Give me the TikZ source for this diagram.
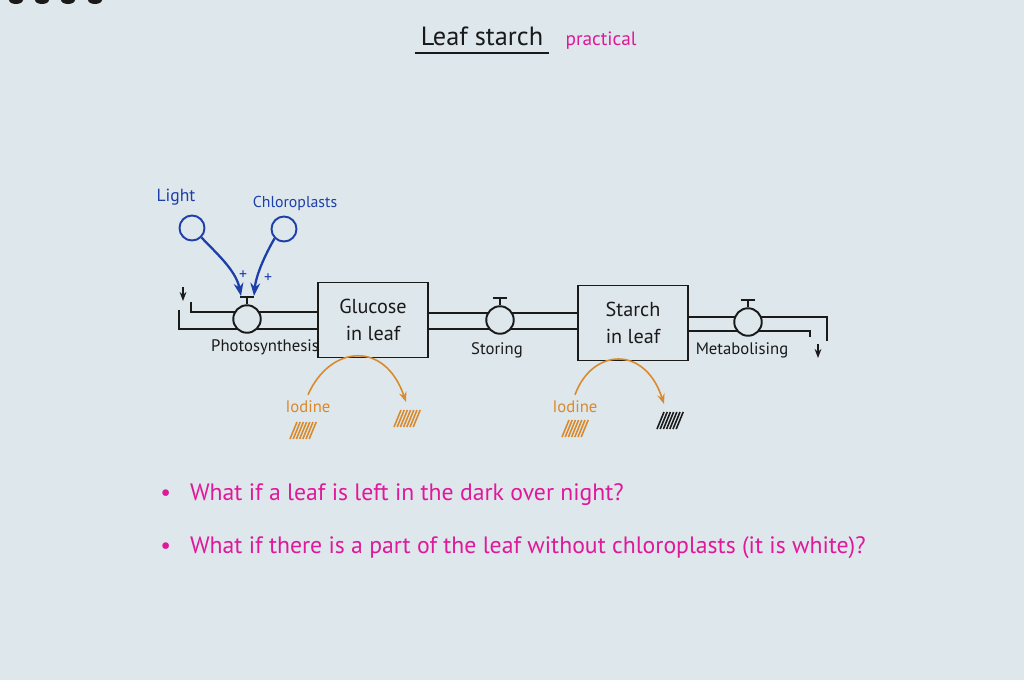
\documentclass[tikz,border=0pt]{standalone}
\usepackage{fontspec}
\setmainfont{PT Sans}
\usepackage{tikz}
\usetikzlibrary{arrows.meta,calc}
\definecolor{cPaper}{HTML}{DEE7EB}
\definecolor{cInk}  {HTML}{1A1A1A}
\definecolor{cBlue} {HTML}{1C3FAA}
\definecolor{cIod}  {HTML}{D98A2E}
\definecolor{cPink} {HTML}{E0189A}
\tikzset{
  >={Stealth[length=2.6mm]},
  pen/.style  ={line width=1.1pt,cInk},
  stock/.style={draw=cInk,line width=1.1pt,minimum width=2.2cm,minimum height=1.5cm,
                align=center,font=\fontsize{11.5}{15}\selectfont,text=cInk},
  valve/.style={circle,draw=cInk,line width=1.1pt,fill=cPaper,minimum size=0.55cm,inner sep=0pt},
  lbl/.style  ={font=\fontsize{9.5}{11}\selectfont,text=cInk},
  cloud/.style={circle,draw=cBlue,line width=1.1pt,minimum size=0.5cm,inner sep=0pt},
  blbl/.style ={font=\fontsize{10}{12}\selectfont,text=cBlue},
  infl/.style ={->,line width=1.3pt,cBlue},
  iod/.style  ={->,line width=0.9pt,cIod,>={Stealth[length=2mm]}},
  olbl/.style ={font=\fontsize{9.5}{11}\selectfont,text=cIod},
  hatch/.style={line width=0.9pt},
  qtxt/.style ={text=cPink,font=\fontsize{13.5}{16}\selectfont,anchor=west,inner sep=0pt},
}

\begin{document}
\begin{tikzpicture}[x=0.02cm,y=-0.02cm]
  \useasboundingbox (0,0) rectangle (1024,680);
  \clip (0,0) rectangle (1024,680);
  \fill[cPaper] (0,0) rectangle (1024,680);
  % binder holes
  \foreach \x in {16,42,68,95} \fill[cInk] (\x,0) ellipse (7 and 4);

  % title
  \node[font=\fontsize{15}{17}\selectfont,text=cInk] (title) at (482,36) {Leaf starch};
  \draw[pen] ($(title.south west)+(0,1)$) -- ($(title.south east)+(0,1)$);
  \node[font=\fontsize{11}{13}\selectfont,text=cPink,anchor=base west] (prac)
       at ($(title.base east)+(10,0)$) {practical};

  % stocks
  \node[stock] (glu) at (373,320) {Glucose\\in leaf};
  \node[stock] (sta) at (633,323) {Starch\\in leaf};

  % pipes
  \coordinate (srcA) at (191,302); \coordinate (srcB) at (179,310);
  \coordinate (snkA) at (827,341); \coordinate (snkB) at (810,337);
  \draw[pen] (srcA) |- (glu.west |- 0,312);
  \draw[pen] (srcB) |- (glu.west |- 0,329);
  \draw[pen] (glu.east |- 0,313) -- (sta.west |- 0,313);
  \draw[pen] (glu.east |- 0,329) -- (sta.west |- 0,329);
  \draw[pen] (sta.east |- 0,317) -| (snkA);
  \draw[pen] (sta.east |- 0,331) -| (snkB);
  \coordinate (inA) at (183,287); \coordinate (inB) at (183,301);
  \coordinate (outA) at (818,344); \coordinate (outB) at (818,358);
  \draw[pen,->,>={Stealth[length=1.8mm]}] (inA) -- (inB);
  \draw[pen,->,>={Stealth[length=1.8mm]}] (outA) -- (outB);

  % valves
  \node[valve] (v1) at (247,319) {};
  \node[valve] (v2) at (500,320) {};
  \node[valve] (v3) at (748,322) {};
  \foreach \v in {v1,v2,v3}
    \draw[pen] (\v.north) -- ++(0,-7) ++(-7,0) -- ++(14,0);
  \node[lbl] (phot) at (265,347) {Photosynthesis};
  \node[lbl] (stor) at (497,350) {Storing};
  \node[lbl] (meta) at (742,350) {Metabolising};

  % influences
  \node[cloud] (light) at (192,228) {};
  \node[cloud] (chl)   at (284,229) {};
  \node[blbl] (llight) at (176,197) {Light};
  \node[blbl,font=\fontsize{9}{11}\selectfont] (lchl) at (295,203) {Chloroplasts};
  \coordinate (tipA) at (241,296); \coordinate (tipB) at (254,296);
  \draw[infl] (light.south east) .. controls (215,252) and (236,270) .. (tipA);
  \draw[infl] (chl.south west) .. controls (265,255) and (256,275) .. (tipB);
  \node[blbl,font=\fontsize{9}{10}\selectfont] (p1) at (243,275) {+};
  \node[blbl,font=\fontsize{9}{10}\selectfont] (p2) at (268,278) {+};

  % iodine tests
  \node[olbl] (iod1) at (308,407) {Iodine};
  \node[olbl] (iod2) at (575,407) {Iodine};
  \coordinate (h1) at (303,430); \coordinate (h2) at (407,418);
  \coordinate (h3) at (575,428); \coordinate (h4) at (670,420);
  \draw[iod] (iod1.north) .. controls (330,345) and (385,340) .. ($(h2)+(-1,-16)$);
  \draw[iod] (iod2.north) .. controls (592,348) and (645,345) .. ($(h4)+(-6,-16)$);
  \foreach \h/\c in {h1/cIod,h2/cIod,h3/cIod,h4/cInk}
    \foreach \i in {0,...,6}
      \draw[hatch,\c] ($(\h)+(\i*3.2-13,9)$) -- ++(7,-17);

  % questions
  \node[qtxt] (q1) at (160,495) {\textbullet\hspace{0.8em}What if a leaf is left in the dark over night?};
  \node[qtxt] (q2) at (160,548) {\textbullet\hspace{0.8em}What if there is a part of the leaf without chloroplasts (it is white)?};
\end{tikzpicture}
\end{document}
